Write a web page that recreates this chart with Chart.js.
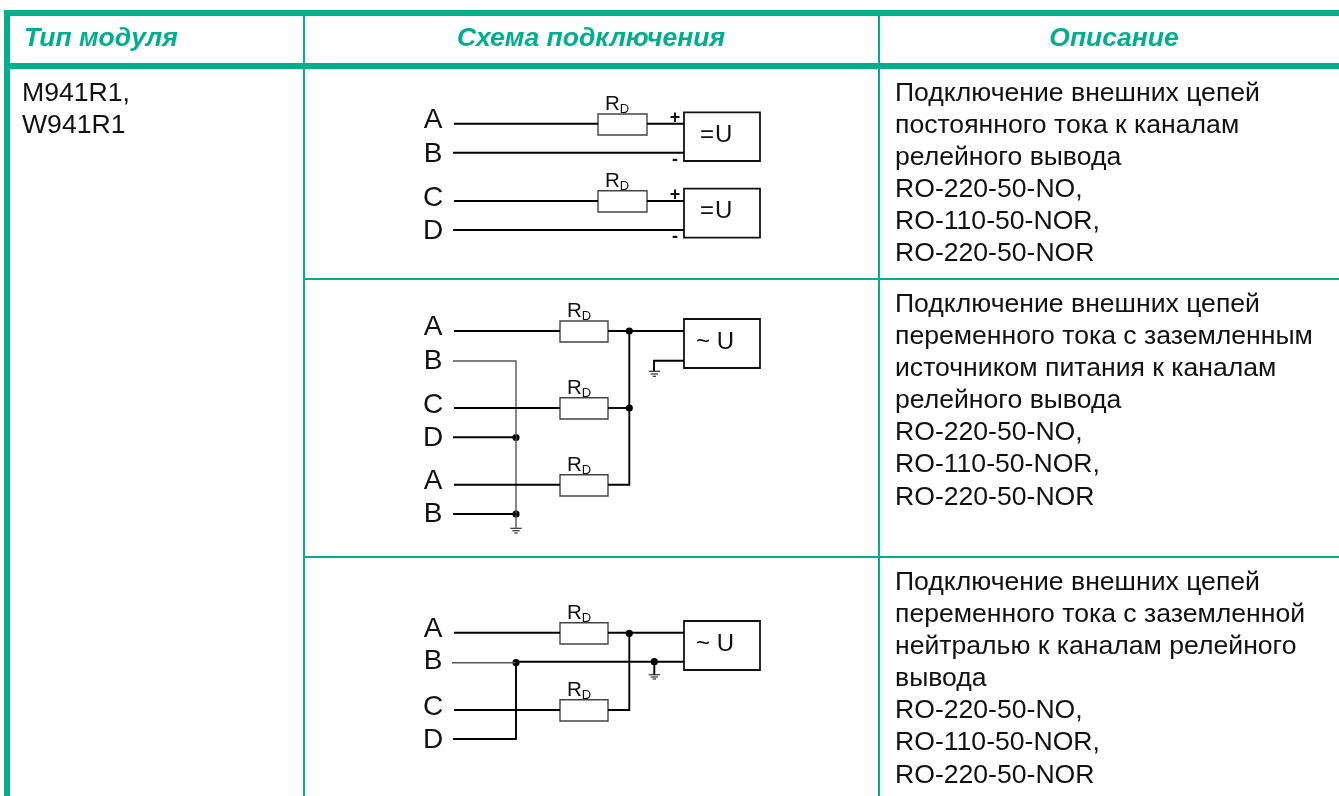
<!DOCTYPE html>
<html lang="ru">
<head>
<meta charset="utf-8">
<title>Схема подключения</title>
<script src="https://cdn.jsdelivr.net/npm/chart.js@4/dist/chart.umd.min.js"></script>
<style>
  html, body { margin: 0; padding: 0; background: #fff; overflow: hidden; }
  #wrap { position: relative; width: 1339px; height: 796px; font-family: "Liberation Sans", Arial, sans-serif; color: #111; }
  #wrap canvas { position: absolute; left: 0; top: 0; }
  .t { position: absolute; white-space: pre; }
  .head { font-size: 26.5px; font-weight: bold; font-style: italic; color: #00ae8b; line-height: 30px; transform: translateX(-50%); }
  .desc { font-size: 26.6px; line-height: 32.1px; }
  .pin { font-size: 28px; line-height: 30px; transform: translate(-50%, -50%); }
  .rd { font-size: 20.5px; line-height: 20px; transform: translateY(-50%); }
  .rd sub { font-size: 13px; vertical-align: -3px; line-height: 0; }
  .src { font-size: 24px; line-height: 26px; transform: translateY(-50%); }
  .src.dc { letter-spacing: 1px; }
  .pol { font-size: 18px; font-weight: bold; line-height: 18px; transform: translate(-50%, -50%); }
</style>
</head>
<body>
<div id="wrap">
  <canvas id="scheme" width="1339" height="796"></canvas>
</div>
<script>
const green = "#00ae8b";

// table text
const headers = ["Тип модуля", "Схема подключения", "Описание"];
const moduleTypes = "M941R1,\nW941R1";
const descriptions = [
  "Подключение внешних цепей\nпостоянного тока к каналам\nрелейного вывода\nRO-220-50-NO,\nRO-110-50-NOR,\nRO-220-50-NOR",
  "Подключение внешних цепей\nпеременного тока с заземленным\nисточником питания к каналам\nрелейного вывода\nRO-220-50-NO,\nRO-110-50-NOR,\nRO-220-50-NOR",
  "Подключение внешних цепей\nпеременного тока с заземленной\nнейтралью к каналам релейного\nвывода\nRO-220-50-NO,\nRO-110-50-NOR,\nRO-220-50-NOR"
];

// table rules, read in page pixels
const heavyRules = [
  [[4, 13], [1339, 13]], [[4, 66], [1339, 66]], [[7, 10], [7, 796]]
];
const thinRules = [
  [[304, 16], [304, 796]], [[879, 16], [879, 796]],
  [[305, 279], [1339, 279]], [[305, 557], [1339, 557]]
];

// circuit wires
const wires = [
  // first scheme
  [[454, 123.7], [598, 123.7]], [[647, 123.7], [684, 123.7]], [[453, 152.7], [684, 152.7]],
  [[454, 201], [598, 201]], [[647, 201], [684, 201]], [[453, 230], [684, 230]],
  // second scheme
  [[454, 331], [560, 331]], [[608, 331], [684, 331]],
  [[454, 408], [560, 408]], [[608, 408], [629.3, 408]],
  [[453, 437.3], [516, 437.3]],
  [[454, 484.7], [560, 484.7]], [[608, 484.7], [629.3, 484.7], [629.3, 331]],
  [[453, 514], [516, 514]],
  [[684, 360.7], [654, 360.7], [654, 371]],
  // third scheme
  [[454, 632.7], [560, 632.7]], [[608, 632.7], [684, 632.7]],
  [[516, 661.7], [684, 661.7]], [[654.3, 661.7], [654.3, 674.5]],
  [[454, 710], [560, 710]], [[608, 710], [629.3, 710], [629.3, 633]],
  [[453, 739], [516, 739], [516, 662.7]]
];
const thinWires = [
  [[453, 361], [516, 361], [516, 528]],
  [[452, 662.7], [516, 662.7]]
];
const groundBars = [
  [[648.7, 371.3], [660, 371.3]], [[650.7, 374], [658, 374]], [[652.7, 376.3], [656, 376.3]],
  [[510.3, 528.3], [521.7, 528.3]], [[512.3, 530.7], [519.7, 530.7]], [[514.3, 533], [517.7, 533]],
  [[648.7, 674.7], [660, 674.7]], [[650.7, 677], [658, 677]], [[652.7, 679], [656, 679]]
];
// [left, top, right, bottom]
const resistors = [
  [598, 114, 647, 135], [598, 190.7, 647, 212],
  [560, 321, 608, 342], [560, 397.7, 608, 419], [560, 474.7, 608, 496],
  [560, 622.7, 608, 644], [560, 699.7, 608, 721]
];
const sources = [
  [684, 112.3, 760, 161], [684, 188.7, 760, 237.7],
  [684, 319, 760, 368], [684, 621, 760, 670]
];
const junctions = [
  [629.3, 331], [629.3, 408], [516, 437.5], [516, 514],
  [629.3, 633.3], [516, 662.7], [654.3, 661.7]
];

// circuit labels
const pinLabels = ["A", "B", "C", "D", "A", "B", "C", "D", "A", "B", "A", "B", "C", "D"];
const pinX = [433, 433, 433, 433, 433, 433, 433, 433, 433, 433, 433, 433, 433, 433];
const pinY = [119, 152.5, 197, 229.7, 326, 359.5, 404, 437, 480, 513, 628, 660, 706, 739];
const sourceLabels = ["=U", "=U", "~ U", "~ U"];
const polarityLabels = ["+", "-", "+", "-"];

function rectPath(r) {
  return [[r[0], r[1]], [r[2], r[1]], [r[2], r[3]], [r[0], r[3]], [r[0], r[1]]];
}

function pathSet(paths, color, width, cap) {
  return paths.map(p => ({
    data: p.map(q => ({ x: q[0], y: q[1] })),
    showLine: true,
    borderColor: color,
    borderWidth: width,
    borderCapStyle: cap || "butt",
    borderJoinStyle: "miter",
    pointRadius: 0,
    tension: 0,
    clip: false
  }));
}

new Chart(document.getElementById("scheme"), {
  type: "scatter",
  data: {
    datasets: [
      ...pathSet(heavyRules, green, 6),
      ...pathSet(thinRules, green, 2),
      ...pathSet(wires, "#000", 1.9),
      ...pathSet(thinWires, "#555", 1.4),
      ...pathSet(groundBars, "#333", 1.2),
      ...pathSet(resistors.map(rectPath), "#444", 1.4, "square"),
      ...pathSet(sources.map(rectPath), "#111", 1.8, "square"),
      {
        data: junctions.map(j => ({ x: j[0], y: j[1] })),
        showLine: false,
        pointRadius: 3.6,
        pointBorderWidth: 0,
        pointBackgroundColor: "#000",
        clip: false
      }
    ]
  },
  options: {
    responsive: false,
    animation: false,
    events: [],
    layout: { padding: 0, autoPadding: false },
    plugins: { legend: { display: false }, tooltip: { enabled: false } },
    scales: {
      x: { type: "linear", display: false, min: 0, max: 1339 },
      y: { type: "linear", display: false, min: 0, max: 796, reverse: true }
    }
  }
});

const wrap = document.getElementById("wrap");
function put(text, cls, x, y) {
  const el = document.createElement("div");
  el.className = "t " + cls;
  el.style.left = x + "px";
  el.style.top = y + "px";
  el.textContent = text;
  wrap.appendChild(el);
  return el;
}

put(headers[0], "head", 101, 22);
put(headers[1], "head", 591, 22);
put(headers[2], "head", 1114, 22);
put(moduleTypes, "desc", 22, 76);
put(descriptions[0], "desc", 895, 76);
put(descriptions[1], "desc", 895, 287);
put(descriptions[2], "desc", 895, 565);

pinLabels.forEach((s, i) => put(s, "pin", pinX[i], pinY[i]));

resistors.forEach(r => {
  const el = put("R", "rd", r[0] + 7, r[1] - 11);
  const sub = document.createElement("sub");
  sub.textContent = "D";
  el.appendChild(sub);
});

sourceLabels.forEach((s, i) => {
  const b = sources[i];
  put(s, i < 2 ? "src dc" : "src", i < 2 ? b[0] + 16 : b[0] + 12, (b[1] + b[3]) / 2 - 3);
});

polarityLabels.forEach((s, i) => {
  const b = sources[i >> 1];
  put(s, "pol", b[0] - 9, i % 2 ? b[3] - 2 : b[1] + 5);
});
</script>
</body>
</html>
